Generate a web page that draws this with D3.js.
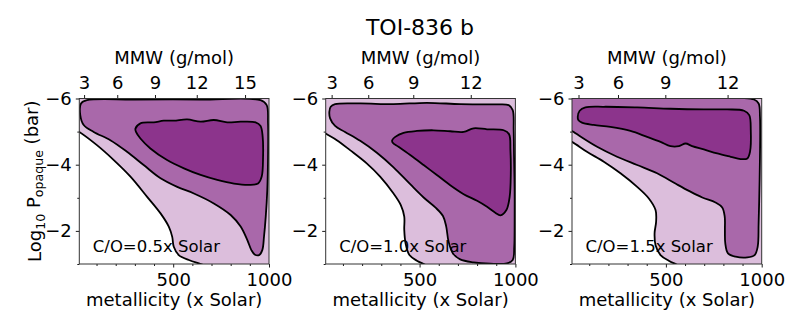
<!DOCTYPE html>
<html><head><meta charset="utf-8">
<script src="https://cdn.jsdelivr.net/npm/d3@7"></script>
<style>
body{margin:0;background:#fff}
svg{display:block}
text{font-family:"DejaVu Sans",sans-serif;fill:#000}
</style>
</head><body>
<svg id="c" width="793" height="331"></svg>
<script>
// ---- data ----
const title = "TOI-836 b";
const panelLabels = ["C/O=0.5x Solar", "C/O=1.0x Solar", "C/O=1.5x Solar"];
const metDomain = [10, 1000];
const pDomain = [-6, -1];
const metTicks = [500, 1000];
const metMinorTicks = [100, 200, 300, 400, 600, 700, 800, 900];
const pTicks = [-6, -4, -2];
const pMinorTicks = [-5, -3, -1];
const mmwTickLabels = [[3, 6, 9, 12, 15], [3, 6, 9, 12], [3, 6, 9, 12]];
const mmwTickMetallicity = [[35, 208, 405, 623, 875], [41, 232, 467, 767], [44, 250, 497, 822]];
const levelColors = ["#dcbedc", "#a968aa", "#8c348c"];

// contour boundaries: [metallicity, log10 P]
const p1Light = [[-60,-5.22],[10,-4.99],[102,-4.59],[190,-4.14],[277,-3.64],[364,-3.03],[434,-2.53],[477,-2.13],[495,-1.82],[503,-1.52],[529,-1.27],[582,-1.12],[643,-1.0],[720,-0.85],[1100,-0.7],[1100,-6.6],[-60,-6.6]];
const p1Mid = [[19,-5.85],[50,-5.95],[294,-5.97],[643,-5.97],[956,-5.95],[988,-5.80],[995,-5.25],[995,-4.24],[991,-3.23],[983,-2.43],[974,-1.83],[965,-1.42],[948,-1.27],[925,-1.29],[908,-1.42],[887,-1.72],[852,-2.13],[800,-2.48],[712,-2.83],[608,-3.13],[521,-3.33],[434,-3.59],[346,-3.99],[259,-4.39],[172,-4.74],[85,-4.99],[33,-5.20],[15,-5.50]];
const p1Dark = [[303,-5.09],[329,-5.25],[399,-5.28],[451,-5.33],[503,-5.33],[573,-5.37],[643,-5.30],[712,-5.35],[782,-5.28],[852,-5.30],[930,-5.28],[956,-5.17],[967,-4.84],[969,-4.24],[962,-3.64],[943,-3.43],[895,-3.39],[817,-3.43],[730,-3.54],[643,-3.69],[556,-3.89],[468,-4.14],[381,-4.49],[329,-4.79],[306,-4.99]];

const p2Light = [[-60,-5.2],[10,-4.94],[68,-4.74],[137,-4.44],[224,-4.04],[294,-3.64],[364,-3.13],[402,-2.78],[420,-2.43],[420,-2.03],[427,-1.62],[447,-1.27],[486,-1.10],[521,-1.0],[580,-0.85],[1100,-0.7],[1100,-6.6],[-60,-6.6]];
const p2Mid = [[36,-5.75],[59,-5.83],[190,-5.85],[364,-5.83],[538,-5.87],[712,-5.83],[887,-5.82],[965,-5.80],[986,-5.65],[991,-5.04],[993,-4.24],[996,-3.23],[996,-2.23],[994,-1.52],[986,-1.12],[956,-1.02],[869,-1.01],[782,-1.05],[712,-1.14],[674,-1.32],[651,-1.68],[639,-2.13],[622,-2.45],[582,-2.71],[521,-3.01],[451,-3.41],[364,-3.92],[277,-4.36],[190,-4.72],[111,-4.99],[59,-5.17],[33,-5.40],[29,-5.60]];
const p2Dark = [[357,-4.74],[373,-4.84],[416,-4.96],[486,-5.02],[573,-5.04],[660,-5.01],[730,-4.99],[782,-5.10],[852,-5.07],[939,-5.04],[967,-4.92],[974,-4.44],[976,-3.74],[970,-3.03],[953,-2.63],[922,-2.47],[895,-2.55],[852,-2.73],[800,-2.91],[730,-3.11],[660,-3.38],[590,-3.69],[521,-3.99],[451,-4.29],[390,-4.54],[360,-4.66]];

const p3Light = [[-60,-4.9],[10,-4.69],[88,-4.39],[176,-4.09],[263,-3.74],[350,-3.33],[411,-2.98],[446,-2.63],[449,-2.28],[441,-1.93],[446,-1.57],[472,-1.27],[515,-1.10],[550,-1.0],[610,-0.85],[1100,-0.7],[1100,-6.6],[-60,-6.6]];
const p3Mid = [[-60,-6.2],[300,-6.04],[700,-6.03],[960,-5.97],[984,-5.85],[991,-5.45],[991,-4.24],[988,-3.23],[984,-2.23],[979,-1.52],[963,-1.27],[925,-1.20],[864,-1.22],[824,-1.32],[810,-1.62],[808,-2.03],[807,-2.43],[794,-2.71],[759,-2.86],[690,-3.01],[620,-3.21],[550,-3.43],[454,-3.74],[350,-3.99],[245,-4.24],[141,-4.54],[62,-4.82],[19,-4.99],[-60,-5.3]];
const p3Dark = [[40,-5.45],[50,-5.63],[80,-5.73],[176,-5.75],[350,-5.73],[524,-5.69],[698,-5.67],[820,-5.67],[908,-5.63],[935,-5.50],[943,-5.04],[939,-4.39],[925,-4.19],[890,-4.17],[838,-4.24],[768,-4.34],[698,-4.46],[637,-4.56],[603,-4.64],[568,-4.56],[524,-4.56],[472,-4.69],[402,-4.84],[315,-5.02],[210,-5.14],[123,-5.20],[62,-5.27],[43,-5.35]];

const contours = [[p1Light, p1Mid, p1Dark], [p2Light, p2Mid, p2Dark], [p3Light, p3Mid, p3Dark]];

// ---- layout ----
const svg = d3.select("#c");
const lefts = [79.3, 325.7, 572];
const PW = 189.7, PT = 98.5, PB = 264;
const FS = 18;

svg.append("text").attr("x", 420).attr("y", 35).attr("text-anchor", "middle")
  .style("font-size", "22px").text(title);

const defs = svg.append("defs");

function styleAxis(g) {
  g.select(".domain").remove();
  g.selectAll(".tick line").attr("stroke", "#000").attr("stroke-width", 0.9);
  g.selectAll(".tick text").style("font-size", FS + "px").style("font-family", '"DejaVu Sans",sans-serif').attr("fill", "#000");
}

panelLabels.forEach((lab, i) => {
  const L = lefts[i];
  const x = d3.scaleLinear().domain(metDomain).range([L, L + PW]);
  const y = d3.scaleLinear().domain(pDomain).range([PT, PB]);
  const id = "clip" + i;
  defs.append("clipPath").attr("id", id).append("rect")
    .attr("x", L).attr("y", PT).attr("width", PW).attr("height", PB - PT);

  const line = d3.line().x(d => x(d[0])).y(d => y(d[1])).curve(d3.curveCatmullRomClosed.alpha(0.5));
  const cg = svg.append("g").attr("clip-path", `url(#${id})`);
  contours[i].forEach((pts, k) => cg.append("path").attr("d", line(pts)).attr("fill", levelColors[k]));
  contours[i].forEach(pts => cg.append("path").attr("d", line(pts)).attr("fill", "none")
    .attr("stroke", "#000").attr("stroke-width", 1.8).attr("stroke-linejoin", "round"));

  // bottom axis
  svg.append("g").attr("transform", `translate(0,${PB})`)
    .call(d3.axisBottom(x).tickValues(metMinorTicks).tickSize(2).tickFormat(""))
    .call(styleAxis);
  svg.append("g").attr("transform", `translate(0,${PB})`)
    .call(d3.axisBottom(x).tickValues(metTicks).tickSize(3.5).tickPadding(6).tickFormat(d3.format("d")))
    .call(styleAxis);
  // left axis
  svg.append("g").attr("transform", `translate(${L},0)`)
    .call(d3.axisLeft(y).tickValues(pMinorTicks).tickSize(2).tickFormat(""))
    .call(styleAxis);
  svg.append("g").attr("transform", `translate(${L},0)`)
    .call(d3.axisLeft(y).tickValues(pTicks).tickSize(3.5).tickPadding(4).tickFormat(d3.format("d")))
    .call(styleAxis);
  // top axis (MMW)
  const mm = mmwTickMetallicity[i];
  svg.append("g").attr("transform", `translate(0,${PT})`)
    .call(d3.axisTop(x).tickValues(mm).tickSize(3.5).tickPadding(6)
      .tickFormat((d, j) => mmwTickLabels[i][j]))
    .call(styleAxis);

  // frame
  svg.append("rect").attr("x", L).attr("y", PT).attr("width", PW).attr("height", PB - PT)
    .attr("fill", "none").attr("stroke", "#333").attr("stroke-width", 1);

  // labels
  svg.append("text").attr("x", L + PW / 2).attr("y", 64).attr("text-anchor", "middle")
    .style("font-size", FS + "px").text("MMW (g/mol)");
  svg.append("text").attr("x", L + PW / 2).attr("y", 306).attr("text-anchor", "middle")
    .style("font-size", FS + "px").text("metallicity (x Solar)");
  svg.append("text").attr("x", L + 13.5).attr("y", 252)
    .style("font-size", "16.5px").text(lab);
});

// y label
const yl = svg.append("text").attr("transform", `translate(41,${(PT + PB) / 2}) rotate(-90)`)
  .attr("text-anchor", "middle").style("font-size", FS + "px");
yl.append("tspan").text("Log");
yl.append("tspan").attr("dy", "0.28em").style("font-size", "12.6px").text("10");
yl.append("tspan").attr("dy", "-0.28em").text(" P");
yl.append("tspan").attr("dy", "0.28em").style("font-size", "12.6px").text("opaque");
yl.append("tspan").attr("dy", "-0.28em").text(" (bar)");
</script>
</body></html>
